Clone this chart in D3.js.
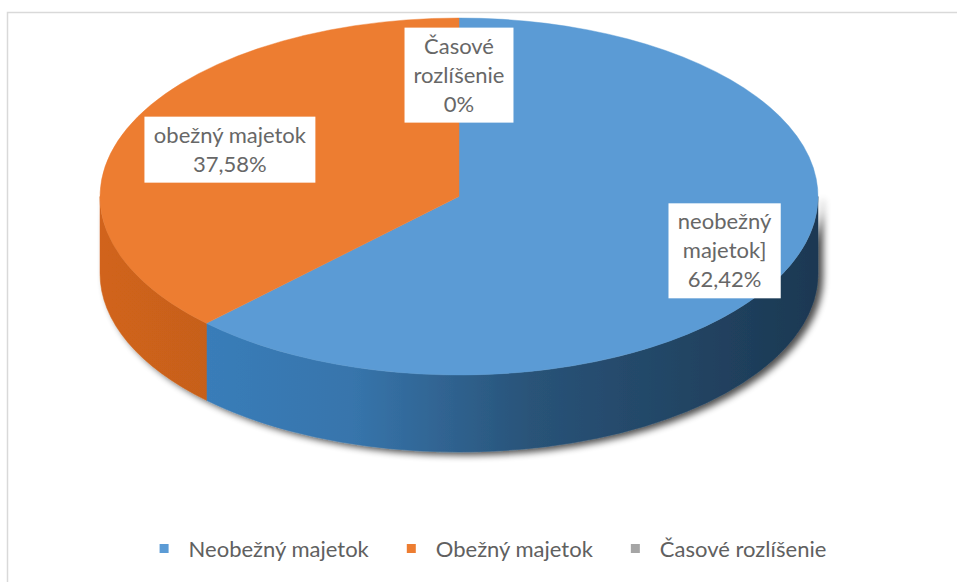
<!DOCTYPE html>
<html>
<head>
<meta charset="utf-8">
<script src="https://cdn.jsdelivr.net/npm/d3@7"></script>
<style>
  body { margin: 0; background: #fff; }
  text { font-family: Lato, "Open Sans", sans-serif; }
</style>
</head>
<body>
<svg id="chart" width="957" height="582"></svg>
<script>
// chart data
const categories = ["Neobežný majetok", "Obežný majetok", "Časové rozlíšenie"]
const labelNames = ["neobežný majetok]", "obežný majetok", "Časové rozlíšenie"]
const shares     = [62.42, 37.58, 0]
const colors     = ["#5b9bd5", "#ed7d31", "#a5a5a5"]

// layout
const W = 957, H = 582
const cx = 459, cy = 196.5, rx = 359, ry = 178.5, depth = 77
const labelRadius = [0.8, 0.69, 0.68]
const labelWrap = [100, 200, 100]
const lineH = 29, fontSize = 22

const svg = d3.select("#chart")
const defs = svg.append("defs")

const locale = d3.formatLocale({decimal: ",", thousands: " ", grouping: [3], currency: ["", " €"]})
const fmt = locale.format(".2~f")

// chart frame
svg.append("rect")
    .attr("x", 7.5).attr("y", 12.5)
    .attr("width", W).attr("height", H)
    .attr("fill", "#fff")
    .attr("stroke", "#d9d9d9")
    .attr("stroke-width", 1.5)

const data = categories.map((c, i) => ({name: c, label: labelNames[i], value: shares[i], color: colors[i], i: i}))

const pie = d3.pie().sort(null).value(d => d.value).startAngle(0).endAngle(2 * Math.PI)
const arcs = pie(data)

// shading helpers
function shade(c, dl, ds) {
    let h = d3.hsl(c)
    h.l = Math.max(0, h.l + dl)
    h.s = Math.max(0, h.s + (ds || 0))
    return h.formatHex()
}

// shadow filter for the side wall
const f = defs.append("filter").attr("id", "shadow")
    .attr("x", "-10%").attr("y", "-10%").attr("width", "130%").attr("height", "140%")
f.append("feGaussianBlur").attr("in", "SourceAlpha").attr("stdDeviation", 3.5).attr("result", "b")
f.append("feOffset").attr("in", "b").attr("dx", 5).attr("dy", 3).attr("result", "o")
f.append("feComponentTransfer").attr("in", "o").attr("result", "s")
    .append("feFuncA").attr("type", "linear").attr("slope", 0.7)
const fm = f.append("feMerge")
fm.append("feMergeNode").attr("in", "s")
fm.append("feMergeNode").attr("in", "SourceGraphic")

// gradients per slice
data.forEach(d => {
    let g = defs.append("linearGradient").attr("id", "side" + d.i)
        .attr("gradientUnits", "userSpaceOnUse")
        .attr("x1", cx - rx).attr("x2", cx + rx).attr("y1", 0).attr("y2", 0)
    g.append("stop").attr("offset", "0%").attr("stop-color", shade(d.color, -0.1, -0.06))
    g.append("stop").attr("offset", "35%").attr("stop-color", shade(d.color, -0.15, -0.08))
    g.append("stop").attr("offset", "60%").attr("stop-color", shade(d.color, -0.28, -0.1))
    g.append("stop").attr("offset", "100%").attr("stop-color", shade(d.color, -0.38, -0.1))

    let t = defs.append("linearGradient").attr("id", "top" + d.i)
        .attr("gradientUnits", "userSpaceOnUse")
        .attr("x1", 0).attr("x2", 0).attr("y1", cy - ry).attr("y2", cy + ry)
    t.append("stop").attr("offset", "0%").attr("stop-color", shade(d.color, 0.01, 0.03))
    t.append("stop").attr("offset", "100%").attr("stop-color", shade(d.color, -0.05, 0.02))
})

function pt(a, dy) {
    return [cx + rx * Math.sin(a), cy - ry * Math.cos(a) + (dy || 0)]
}

// front side walls (only the lower half of the ellipse is visible)
const sideG = svg.append("g").attr("filter", "url(#shadow)")
arcs.forEach(a => {
    let a0 = Math.max(a.startAngle, Math.PI / 2)
    let a1 = Math.min(a.endAngle, 3 * Math.PI / 2)
    if (a1 <= a0) return
    let p0 = pt(a0), p1 = pt(a1), q1 = pt(a1, depth), q0 = pt(a0, depth)
    let large = (a1 - a0) > Math.PI ? 1 : 0
    let dPath = `M${p0}A${rx},${ry} 0 ${large} 1 ${p1}L${q1}A${rx},${ry} 0 ${large} 0 ${q0}Z`
    sideG.append("path")
        .attr("d", dPath)
        .attr("fill", `url(#side${a.data.i})`)
        .attr("stroke", `url(#side${a.data.i})`)
        .attr("stroke-width", 0.5)
})

// top faces
const arc = d3.arc().innerRadius(0).outerRadius(rx)
svg.append("g")
    .attr("transform", `translate(${cx},${cy}) scale(1,${ry / rx})`)
    .selectAll("path")
    .data(arcs.filter(a => a.endAngle > a.startAngle))
    .join("path")
    .attr("d", arc)
    .attr("fill", d => d.data.color)
    .attr("stroke", d => d.data.color)
    .attr("stroke-width", 0.6)

// data labels
const labG = svg.append("g")
arcs.forEach(a => {
    let mid = (a.startAngle + a.endAngle) / 2
    if (a.data.value === 0) mid = a.startAngle
    let r = labelRadius[a.data.i]
    let lx = cx + rx * r * Math.sin(mid)
    let ly = cy - ry * r * Math.cos(mid)

    let g = labG.append("g")
    let box = g.append("rect").attr("fill", "#fff")
    let txt = g.append("text")
        .attr("font-size", fontSize)
        .attr("fill", "#676767")
        .attr("text-anchor", "middle")

    // wrap the label name by width, then add the share
    let words = a.data.label.split(" "), lines = [], cur = ""
    let probe = g.append("text").attr("font-size", fontSize)
    words.forEach(w => {
        let test = cur ? cur + " " + w : w
        probe.text(test)
        if (cur && probe.node().getComputedTextLength() > labelWrap[a.data.i]) {
            lines.push(cur); cur = w
        } else cur = test
    })
    lines.push(cur)
    probe.remove()
    lines.push(fmt(a.data.value) + "%")

    let top = ly - lines.length * lineH / 2
    lines.forEach((l, k) => {
        txt.append("tspan").attr("x", lx).attr("y", top + lineH * k + lineH / 2 + 7.5).text(l)
    })
    let bw = txt.node().getBBox().width + 18
    let bh = lines.length * lineH + 8
    box.attr("x", lx - bw / 2).attr("y", ly - bh / 2).attr("width", bw).attr("height", bh)
})

// legend
const leg = svg.append("g")
const legY = 549
let items = data.map(d => {
    let g = leg.append("g")
    g.append("rect").attr("width", 9).attr("height", 9).attr("y", -5).attr("fill", d.color)
    let t = g.append("text").attr("x", 29).attr("y", 7.5)
        .attr("font-size", fontSize).attr("fill", "#606060").text(d.name)
    return {g: g, w: 29 + t.node().getComputedTextLength()}
})
const gap = 38
let total = d3.sum(items, d => d.w) + gap * (items.length - 1)
let x = 493 - total / 2
items.forEach(it => {
    it.g.attr("transform", `translate(${x},${legY})`)
    x += it.w + gap
})
</script>
</body>
</html>
